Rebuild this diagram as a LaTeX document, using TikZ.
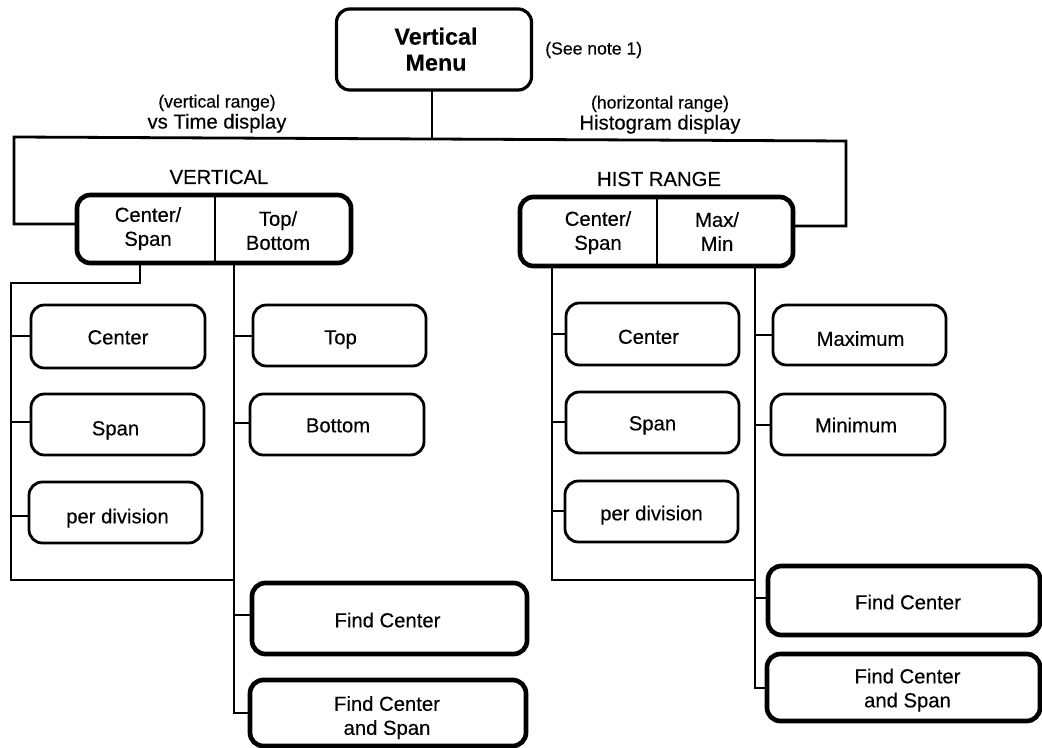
\documentclass[tikz,border=0pt]{standalone}
\usepackage{fontspec}
\setmainfont{Liberation Sans}[FakeBold=0.3]
\tikzset{
  x=0.75pt,y=-0.75pt,
  wire/.style={line width=2.1pt,line cap=rect},
  txt/.style={font=\fontsize{15.2}{18}\selectfont,align=center,inner sep=0pt},
  small/.style={font=\fontsize{13.2}{16}\selectfont,align=center,inner sep=0pt},
  plainbox/.style={draw,line width=2.1pt,rounded corners=10pt,inner sep=0pt},
  heavybox/.style={draw,line width=3.5pt,rounded corners=10pt,inner sep=0pt},
}
% style,name,x1,y1,x2,y2,text,dx,dy (dx,dy: shift of the text from the centre, in px)
\newcommand{\boxat}[9]{%
  \node[#1,minimum width={(#5-#3)*0.75pt},minimum height={(#6-#4)*0.75pt},
    label={[txt,xshift={(#8)*0.75pt},yshift={-(#9)*0.75pt}]center:{#7}}] (#2) at ({(#3+#5)/2},{(#4+#6)/2}) {};}
\begin{document}
\begin{tikzpicture}
\useasboundingbox (0,0) rectangle (1042,748);
% top
\node[plainbox,line width=2.4pt,minimum width=146.25pt,minimum height=60.75pt,
  label={[align=center,inner sep=0pt,font=\fontsize{17.5}{19.5}\selectfont\bfseries,xshift=1.5pt,yshift=-2.2pt]center:{\strut Vertical\\\strut Menu}}] (menu) at (434,49.5) {};
\node[small,anchor=west] (note) at (545,50) {(See note 1)};
\node[txt,anchor=south] (vlabel) at (217,133) {{\fontsize{13.2}{16}\selectfont (vertical range)}\\[-2.25pt]vs Time display};
\node[txt,anchor=south] (hlabel) at (660,134) {{\fontsize{13.2}{16}\selectfont (horizontal range)}\\[-2.25pt]Histogram display};
\node[txt] (vtitle) at (219,177) {VERTICAL};
\node[txt] (htitle) at (659,179) {HIST RANGE};
% split selector boxes
\boxat{heavybox}{vbox}{77}{195}{351}{263}{}{0}{0}
\boxat{heavybox}{hbox}{520}{197}{793}{266}{}{0}{0}
\draw[line width=2.1pt] (215,195) -- (215,263);
\draw[line width=2.1pt] (657,197) -- (657,266);
\node[txt] (vcs) at (148,229) {\strut Center/\\\strut Span};
\node[txt] (vtb) at (278,233) {\strut Top/\\\strut Bottom};
\node[txt] (hcs) at (598,233) {\strut Center/\\\strut Span};
\node[txt] (hmm) at (717,234) {\strut Max/\\\strut Min};
% left column boxes
\boxat{plainbox}{c1}{31}{305}{205}{368}{\strut Center}{0}{3}
\boxat{plainbox}{s1}{31}{394}{204}{455}{\strut Span}{-2}{6}
\boxat{plainbox}{p1}{29}{482}{202}{543}{\strut per division}{2}{6}
\boxat{plainbox}{t1}{253}{305}{426}{366}{\strut Top}{1}{4}
\boxat{plainbox}{b1}{250}{394}{424}{455}{\strut Bottom}{1}{3}
\boxat{heavybox}{f1}{252}{583}{527}{654}{\strut Find Center}{-2}{4}
\boxat{heavybox}{g1}{250}{680}{526}{746}{\strut Find Center\\\strut and Span}{-1}{5}
% right column boxes
\boxat{plainbox}{c2}{566}{303}{739}{365}{\strut Center}{-4}{5}
\boxat{plainbox}{s2}{566}{392}{739}{453}{\strut Span}{0}{3}
\boxat{plainbox}{p2}{565}{481}{738}{542}{\strut per division}{0}{4}
\boxat{plainbox}{t2}{773}{305}{946}{365}{\strut Maximum}{1}{6}
\boxat{plainbox}{b2}{771}{394}{945}{455}{\strut Minimum}{-2}{3}
\boxat{heavybox}{f2}{768}{566}{1040}{635}{\strut Find Center}{4}{4}
\boxat{heavybox}{g2}{767}{654}{1040}{721}{\strut Find Center\\\strut and Span}{4}{3}
% bus junctions
\coordinate (busL) at (14,137);
\coordinate (busR) at (846,141);
\coordinate (busM) at (432,138);
\coordinate (vdrop) at (140,263);
\coordinate (vside) at (11,283);
\coordinate (vtrunk) at (234,263);
\coordinate (htrunkA) at (552,266);
\coordinate (htrunkB) at (755,266);
% main bus
\draw[wire] (busM |- menu.south) -- (busM);
\draw[wire] (vbox.west |- 0,224) -| (busL) -- (busR) |- (hbox.east |- 0,226);
% vertical branch
\draw[wire] (vdrop) -- (vdrop |- vside) -- (vside) |- (vtrunk |- 0,580);
\draw[wire] (vtrunk) |- (g1.west |- 0,713);
\foreach \n/\yy in {c1/336,s1/422,p1/516} \draw[wire] (\n.west |- 0,\yy) -- (vside |- 0,\yy);
\foreach \n/\yy in {t1/336,b1/423,f1/615} \draw[wire] (\n.west |- 0,\yy) -- (vtrunk |- 0,\yy);
% hist branch
\draw[wire] (htrunkA) |- (htrunkB |- 0,580);
\draw[wire] (htrunkB) |- (g2.west |- 0,688);
\foreach \n/\yy in {c2/334,s2/422,p2/511} \draw[wire] (\n.west |- 0,\yy) -- (htrunkA |- 0,\yy);
\foreach \n/\yy in {t2/335,b2/425,f2/598} \draw[wire] (\n.west |- 0,\yy) -- (htrunkB |- 0,\yy);
\end{tikzpicture}
\end{document}
